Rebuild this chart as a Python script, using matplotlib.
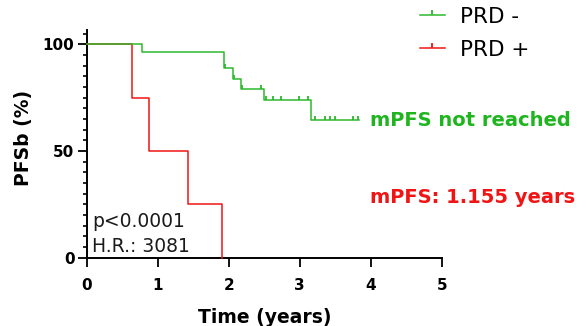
import numpy as np
import matplotlib
matplotlib.use("Agg")
import matplotlib.pyplot as plt
from matplotlib.lines import Line2D
from matplotlib.ticker import MultipleLocator

# ---- data ----
neg_times = [0, 0.78, 1.93, 2.06, 2.17, 2.49, 3.16, 3.84]
neg_surv = [100, 96.3, 88.8, 83.8, 79.0, 73.9, 64.5, 64.5]
neg_censor = [1.95, 2.08, 2.18, 2.46, 2.53, 2.62, 2.74, 2.99, 3.115,
              3.21, 3.35, 3.42, 3.49, 3.745, 3.825]

pos_times = [0, 0.64, 0.88, 1.43, 1.90]
pos_surv = [100, 75, 50, 25, 0]

labels = ["PRD -", "PRD +"]
x_ticks = [0, 1, 2, 3, 4, 5]
y_ticks = [0, 50, 100]

GREEN = "#2cb82c"
GREEN_TXT = "#1fb51f"
RED = "#f01414"

fig = plt.figure(figsize=(5.86, 3.26), dpi=100)
ax = fig.add_axes([0.148, 0.2095, 0.606, 0.70])

ax.step(pos_times, pos_surv, where="post", color=RED, lw=1.1, clip_on=False, zorder=3)
ax.step(neg_times, neg_surv, where="post", color=GREEN, lw=1.1, clip_on=False, zorder=4)

# censor marks on PRD -
idx = np.searchsorted(neg_times, neg_censor, side="right") - 1
cy = np.array(neg_surv)[idx]
ax.plot(neg_censor, cy, linestyle="none", marker=2, markersize=3.2,
        markeredgewidth=1.3, color=GREEN, clip_on=False, zorder=5)

ax.set_xlim(0, 5)
ax.set_ylim(0, 107)
ax.set_xticks(x_ticks)
ax.set_yticks(y_ticks)
ax.yaxis.set_minor_locator(MultipleLocator(5))

for s in ["top", "right"]:
    ax.spines[s].set_visible(False)
for s in ["left", "bottom"]:
    ax.spines[s].set_linewidth(1.4)

ax.tick_params(axis="both", which="major", length=6.3, width=1.3, labelsize=11)
ax.tick_params(axis="y", which="minor", length=3.2, width=1.2)
ax.tick_params(axis="x", which="major", pad=8)
ax.tick_params(axis="y", which="major", pad=2.5)
for lab in ax.get_xticklabels() + ax.get_yticklabels():
    lab.set_fontweight("bold")

ax.set_xlabel("Time (years)", fontsize=13.5, fontweight="bold", labelpad=11)
ax.set_ylabel("PFSb (%)", fontsize=13.5, fontweight="bold")
ax.yaxis.set_label_coords(-0.15, 0.525)

# annotations
ax.text(3.99, 61.7, "mPFS not reached", color=GREEN_TXT, fontsize=14,
        fontweight="bold", va="baseline", ha="left", clip_on=False)
ax.text(3.99, 25.5, "mPFS: 1.155 years", color=RED, fontsize=14,
        fontweight="bold", va="baseline", ha="left", clip_on=False)
ax.text(0.079, 14.5, "p<0.0001", color="#1a1a1a", fontsize=13.5,
        va="baseline", ha="left")
ax.text(0.079, 2.8, "H.R.: 3081", color="#1a1a1a", fontsize=13.5,
        va="baseline", ha="left")

handles = [Line2D([], [], color=GREEN, lw=1.1, marker=2, markersize=3.5, markeredgewidth=1.3),
           Line2D([], [], color=RED, lw=1.1, marker=2, markersize=3.5, markeredgewidth=1.3)]
fig.legend(handles, labels, loc="upper left", bbox_to_anchor=(420 / 586, 1 - 7 / 326),
           frameon=False, fontsize=15.5, numpoints=1, handlelength=1.15,
           handletextpad=0.7, labelspacing=0.6, borderpad=0, borderaxespad=0)

fig.savefig("out.png", dpi=100)
